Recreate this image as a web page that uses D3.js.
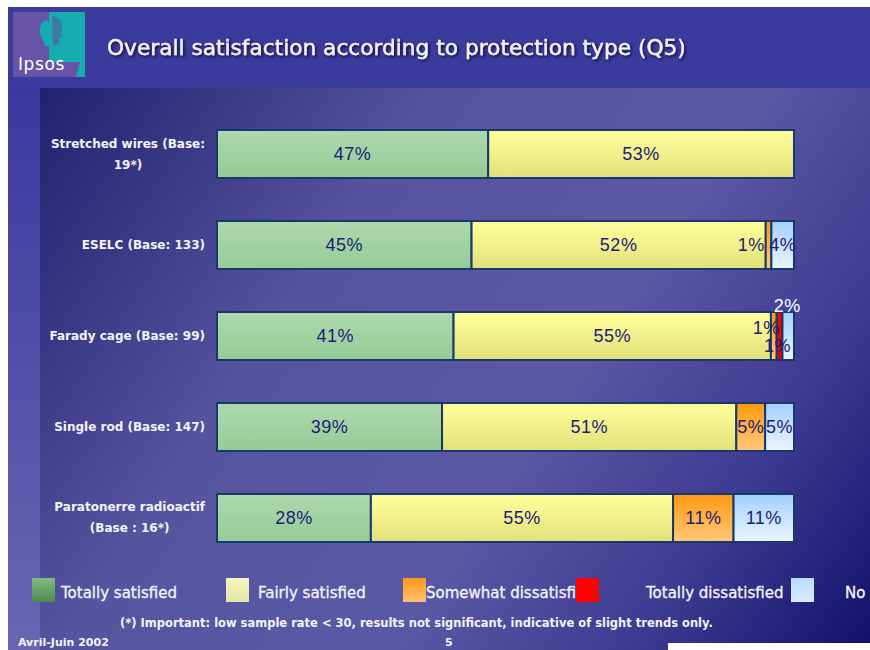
<!DOCTYPE html>
<html>
<head>
<meta charset="utf-8">
<script src="https://cdn.jsdelivr.net/npm/d3@7"></script>
<style>
  html, body { margin: 0; padding: 0; background: #ffffff; }
  svg { display: block; }
</style>
</head>
<body>
<svg id="chart" width="870" height="650"></svg>
<script>
// ---------------- DATA ----------------
const categories = [
  ["Stretched wires (Base:", "19*)"],
  ["ESELC (Base: 133)"],
  ["Farady cage (Base: 99)"],
  ["Single rod (Base: 147)"],
  ["Paratonerre radioactif", "(Base : 16*)"]
];
const seriesNames = ["Totally satisfied", "Fairly satisfied", "Somewhat dissatisfied", "Totally dissatisfied", "No answer"];
const legendLabels = ["Totally satisfied", "Fairly satisfied", "Somewhat dissatisfi", "Totally dissatisfied", "No"];
const totallySatisfied   = [47, 45, 41, 39, 28];
const fairlySatisfied    = [53, 52, 55, 51, 55];
const somewhatDissat     = [0, 1, 1, 5, 11];
const totallyDissat      = [0, 0, 1, 0, 0];
const noAnswer           = [0, 4, 2, 5, 11];
const title = "Overall satisfaction according to protection type (Q5)";
const footnote = "(*) Important: low sample rate < 30, results not significant, indicative of slight trends only.";
const dateLabel = "Avril-Juin 2002";
const pageLabel = "5";

// ---------------- STYLE / LAYOUT ----------------
const seriesValues = [totallySatisfied, fairlySatisfied, somewhatDissat, totallyDissat, noAnswer];
const barGrad = [["#aed9ae", "#96ca96"], ["#ffff9c", "#e2e07a"], ["#ff9810", "#ffc878"], ["#ff0000", "#ee0000"], ["#a2d0ff", "#eaf5ff"]];
const legGrad = [["#80bc80", "#4c8a4c"], ["#f6f6c0", "#e4e4a6"], ["#ff9818", "#ffc070"], ["#ff0000", "#ff0000"], ["#b8dcff", "#d8ecff"]];
const legendLayout = [
  {sx: 32, tx: 61},
  {sx: 226, tx: 258},
  {sx: 403, tx: 426},
  {sx: 576, tx: 646},
  {sx: 791, tx: 845}
];

const svg = d3.select("#chart");
const defs = svg.append("defs");

// background gradients
const bg = defs.append("linearGradient").attr("id", "bgGrad")
  .attr("gradientUnits", "userSpaceOnUse")
  .attr("x1", 40).attr("y1", 88).attr("x2", 870).attr("y2", 650);
[[0, "#222170"], [0.33, "#56549f"], [0.6, "#5b58a6"], [0.8, "#3e3b92"], [1, "#12106a"]]
  .forEach(([o, c]) => bg.append("stop").attr("offset", o).attr("stop-color", c));
const side = defs.append("linearGradient").attr("id", "sideGrad").attr("x1", 0).attr("y1", 0).attr("x2", 0).attr("y2", 1);
[[0, "#3a3a9e"], [1, "#6a66b4"]].forEach(([o, c]) => side.append("stop").attr("offset", o).attr("stop-color", c));

barGrad.forEach((g, i) => {
  const lg = defs.append("linearGradient").attr("id", "bar" + i).attr("x1", 0).attr("y1", 0).attr("x2", 0).attr("y2", 1);
  lg.append("stop").attr("offset", 0).attr("stop-color", g[0]);
  lg.append("stop").attr("offset", 1).attr("stop-color", g[1]);
});
legGrad.forEach((g, i) => {
  const lg = defs.append("linearGradient").attr("id", "leg" + i).attr("x1", 0).attr("y1", 0).attr("x2", 0).attr("y2", 1);
  lg.append("stop").attr("offset", 0).attr("stop-color", g[0]);
  lg.append("stop").attr("offset", 1).attr("stop-color", g[1]);
});
const shadow = defs.append("filter").attr("id", "shadow").attr("x", "-5%").attr("y", "-20%").attr("width", "110%").attr("height", "140%");
shadow.append("feDropShadow").attr("dx", 1.5).attr("dy", 1.5).attr("stdDeviation", 0.8).attr("flood-color", "#101030").attr("flood-opacity", 0.9);

// slide background
svg.append("rect").attr("x", 8).attr("y", 7).attr("width", 862).attr("height", 643).attr("fill", "#3b3a9d");
svg.append("rect").attr("x", 8).attr("y", 88).attr("width", 32).attr("height", 562).attr("fill", "url(#sideGrad)");
svg.append("rect").attr("x", 40).attr("y", 88).attr("width", 830).attr("height", 562).attr("fill", "url(#bgGrad)");
svg.append("rect").attr("x", 668).attr("y", 643).attr("width", 202).attr("height", 7).attr("fill", "#ffffff");

// logo
const logo = svg.append("g");
logo.append("rect").attr("x", 13).attr("y", 12).attr("width", 72).attr("height", 65).attr("fill", "#6655a6");
logo.append("path").attr("d", "M49,12 L85,12 L85,77 L76,77 L80,62 L49,62 Z").attr("fill", "#17adb0");
logo.append("path").attr("d", "M46,20 C39,22 38,34 43,40 L45,46 L51,46 L51,24 Z").attr("fill", "#17adb0");
logo.append("path").attr("d", "M52,16 C61,16 64,26 61,32 L63,36 L59,38 L59,44 L53,46 Z").attr("fill", "#5f4f9e").attr("opacity", 0.55);
logo.append("text").attr("x", 18).attr("y", 70).text("Ipsos")
  .attr("font-family", "DejaVu Sans, sans-serif").attr("font-size", 17).attr("letter-spacing", 0.6)
  .attr("fill", "#ffffff");

// title
svg.append("text").attr("x", 107).attr("y", 55).text(title)
  .attr("font-family", "DejaVu Sans, sans-serif").attr("font-size", 21.7)
  .attr("fill", "#f2f2f2").attr("stroke", "#f2f2f2").attr("stroke-width", 0.4)
  .attr("filter", "url(#shadow)");

// scales
const y = d3.scaleBand().domain(d3.range(categories.length)).range([130, 542]).paddingInner(0.4725).paddingOuter(0);
const rows = categories.map((c, i) => {
  const vals = seriesValues.map(s => s[i]);
  const total = d3.sum(vals);
  const x = d3.scaleLinear().domain([0, total]).range([217, 794]);
  let acc = 0;
  const segs = vals.map((v, k) => { const s = {k, v, x0: x(acc), x1: x(acc + v)}; acc += v; return s; });
  return {i, segs};
});

const gRows = svg.append("g").selectAll("g").data(rows).join("g");
gRows.each(function(r) {
  const g = d3.select(this);
  const top = y(r.i), h = y.bandwidth(), cy = top + h / 2;
  const segs = r.segs.filter(s => s.v > 0);
  g.selectAll("rect").data(segs).join("rect")
    .attr("x", s => s.x0).attr("y", top)
    .attr("width", s => Math.max(0, s.x1 - s.x0)).attr("height", h)
    .attr("fill", s => `url(#bar${s.k})`)
    .attr("stroke", "#173a6a").attr("stroke-width", 2);
  g.selectAll("text").data(segs).join("text")
    .text(s => s.v + "%")
    .attr("font-family", "Liberation Sans, Arial, sans-serif")
    .attr("font-size", 18)
    .attr("letter-spacing", 0.5)
    .attr("dominant-baseline", "central")
    .each(function(s) {
      const t = d3.select(this);
      const w = s.x1 - s.x0;
      const redSmall = r.segs[3].v > 0 && r.segs[3].v <= 2;
      if (s.k === 4 && s.v <= 2) {
        t.attr("x", (s.x0 + s.x1) / 2 - 1).attr("y", top - 6).attr("text-anchor", "middle").attr("fill", "#ffffff");
      } else if (s.k === 3 && s.v <= 2) {
        t.attr("x", (s.x0 + s.x1) / 2 - 2).attr("y", cy + 10).attr("text-anchor", "middle").attr("fill", "#1c1c70");
      } else if (w < 12) {
        t.attr("x", redSmall ? s.x1 + 3 : s.x0 - 1).attr("y", redSmall ? cy - 8 : cy).attr("text-anchor", "end").attr("fill", "#1c1c70");
      } else {
        t.attr("x", (s.x0 + s.x1) / 2).attr("y", cy).attr("text-anchor", "middle").attr("fill", "#1c1c78");
      }
    });
});

// category labels
const labG = svg.append("g");
categories.forEach((lines, i) => {
  const cy = y(i) + y.bandwidth() / 2;
  const t = labG.append("text")
    .attr("font-family", "DejaVu Sans, sans-serif").attr("font-size", 12).attr("font-weight", "bold")
    .attr("fill", "#f4f4f8").attr("text-anchor", "middle");
  lines.forEach((ln, j) => {
    t.append("tspan").text(ln).attr("y", cy + 4 + (j - (lines.length - 1) / 2) * 21);
  });
  const widths = [];
  t.selectAll("tspan").each(function() { widths.push(this.getComputedTextLength()); });
  const cx = 205 - d3.max(widths) / 2;
  t.selectAll("tspan").attr("x", cx);
});

// legend
const leg = svg.append("g");
legendLabels.forEach((lab, i) => {
  const L = legendLayout[i];
  leg.append("text").attr("x", L.tx).attr("y", 598).text(lab)
    .attr("font-family", "DejaVu Sans, sans-serif").attr("font-size", 15)
    .attr("fill", "#f4f4f8").attr("stroke", "#f4f4f8").attr("stroke-width", 0.3);
});
legendLabels.forEach((lab, i) => {
  const L = legendLayout[i];
  leg.append("rect").attr("x", L.sx).attr("y", 578).attr("width", 23).attr("height", 24)
    .attr("fill", `url(#leg${i})`);
});

// footnote & footer
svg.append("text").attr("x", 120).attr("y", 627).text(footnote)
  .attr("font-family", "DejaVu Sans, sans-serif").attr("font-size", 11.5).attr("font-weight", "bold").attr("fill", "#f4f4f8");
svg.append("text").attr("x", 18).attr("y", 645.5).text(dateLabel)
  .attr("font-family", "DejaVu Sans, sans-serif").attr("font-size", 11).attr("font-weight", "bold").attr("fill", "#f4f4f8");
svg.append("text").attr("x", 445).attr("y", 645.5).text(pageLabel)
  .attr("font-family", "DejaVu Sans, sans-serif").attr("font-size", 11).attr("font-weight", "bold").attr("fill", "#f4f4f8");
</script>
</body>
</html>
